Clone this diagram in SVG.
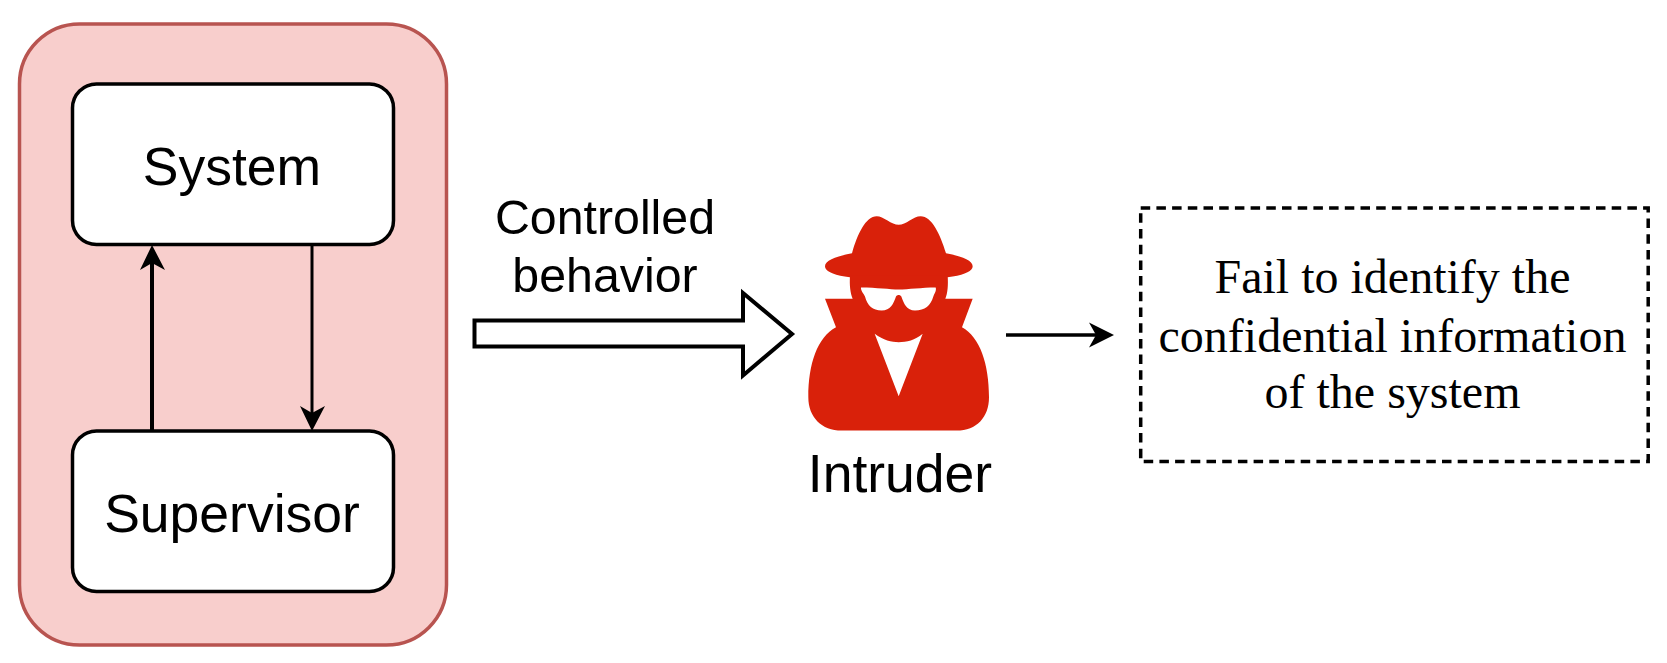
<svg xmlns="http://www.w3.org/2000/svg" width="1667" height="663" viewBox="0 0 1667 663">
<defs>
<style>
.sans{font-family:"Liberation Sans",Arial,sans-serif;fill:#000;text-anchor:middle}
.serif{font-family:"Liberation Serif","Times New Roman",serif;fill:#000;text-anchor:middle;font-size:48px}
.box{fill:#fff;stroke:#000;stroke-width:3.5}
.line{fill:none;stroke:#000}
</style>
</defs>
<rect width="1667" height="663" fill="#fff"/>
<g id="container"><rect x="19.5" y="24" width="427" height="621" rx="60" ry="60" fill="#f8cecc" stroke="#b85450" stroke-width="3.5"/></g>
<g id="system"><rect class="box" x="72.500" y="84" width="321" height="160.500" rx="24"/><text class="sans" x="232" y="184.500" font-size="53.500">System</text></g>
<g id="supervisor"><rect class="box" x="72.500" y="431" width="321" height="160.500" rx="24"/><text class="sans" x="232" y="532" font-size="53.500">Supervisor</text></g>
<g id="connectors">
<path class="line" stroke-width="4" d="M152 431V262"/>
<path d="M152 245L165 270L152 263L140 270Z"/>
<path class="line" stroke-width="3" d="M312 245V414"/>
<path d="M312 431L300 406L312 413L325 406Z"/>
<path fill="#fff" stroke="#000" stroke-width="4" d="M474.500 320.500H743V293L792 334L743 375.500V346.500H474.500Z"/>
<path class="line" stroke-width="3.500" d="M1006 335H1096"/>
<path d="M1114 335L1089 347.500L1096 335L1089 322.500Z"/>
</g>
<g id="controlled-behavior"><text class="sans" x="605" y="233.500" font-size="48.300">Controlled</text><text class="sans" x="605" y="292" font-size="48.300">behavior</text></g>
<g id="intruder">
<g transform="translate(780 190.500) scale(.33333)" fill="#d9210a">
<path d="M290 77C310 77 335 103 356 103C378 103 400 77 422 77C455 77 480 130 498 188C545 197 578 210 578 227C578 255 492 268 356 268C220 268 135 255 135 227C135 210 170 197 216 188C232 130 258 77 290 77Z"/>
<path d="M210 255C208 285 211 308 218 325H135L168 410C112 440 85 520 85 620C85 680 125 720 185 720H530C590 720 627 680 627 620C627 520 600 440 546 410L578 325H496C503 308 505 285 503 255Z"/>
<path fill="#fff" d="M284 430C310 450 335 455 356 455C380 455 405 450 428 430L356 617Z"/>
<path fill="#fff" d="M243 291C290 291 330 297 356 297C385 297 425 291 467 291C470 300 464 308 460 318C452 345 435 360 405 360C380 360 372 340 364 318C360 312 352 312 348 318C340 340 332 360 305 360C278 360 262 345 255 318C250 308 242 300 243 291Z"/>
</g>
<text class="sans" x="900" y="492" font-size="53.500">Intruder</text>
</g>
<g id="result">
<rect x="1140.700" y="208" width="507.500" height="253.500" fill="none" stroke="#000" stroke-width="3.500" stroke-dasharray="9.500 6.200"/>
<text class="serif" x="1392.500" y="293">Fail to identify the</text>
<text class="serif" x="1392.500" y="352">confidential information</text>
<text class="serif" x="1392.500" y="408">of the system</text>
</g>
</svg>
